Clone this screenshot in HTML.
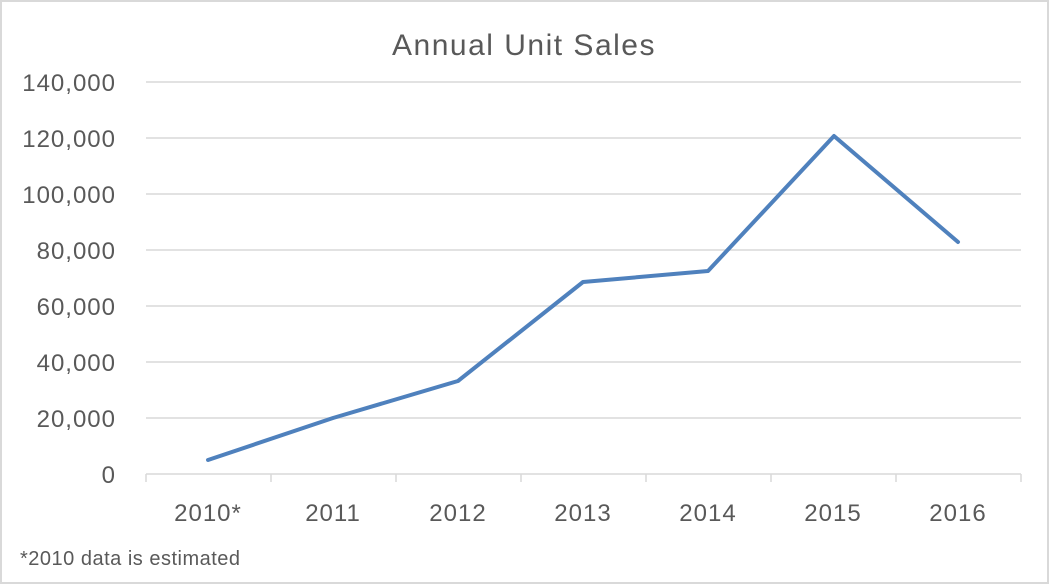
<!DOCTYPE html>
<html><head><meta charset="utf-8"><style>
html,body{margin:0;padding:0;background:#fff;}
svg{display:block;}
text{font-family:"Liberation Sans",sans-serif;fill:#595959;}
</style></head><body>
<svg width="1050" height="585" viewBox="0 0 1050 585">
<rect x="1" y="1" width="1047" height="582" fill="#fff" stroke="#d9d9d9" stroke-width="2"/>
<text x="524" y="55" font-size="30" letter-spacing="1.5" text-anchor="middle">Annual Unit Sales</text>
<g stroke="#d9d9d9" stroke-width="1.5">
<line x1="146" x2="1021" y1="82" y2="82"/>
<line x1="146" x2="1021" y1="138" y2="138"/>
<line x1="146" x2="1021" y1="194" y2="194"/>
<line x1="146" x2="1021" y1="250" y2="250"/>
<line x1="146" x2="1021" y1="306" y2="306"/>
<line x1="146" x2="1021" y1="362" y2="362"/>
<line x1="146" x2="1021" y1="418" y2="418"/>
<line x1="146" x2="1021" y1="474" y2="474"/>
<line x1="146" x2="146" y1="474" y2="482"/>
<line x1="271" x2="271" y1="474" y2="482"/>
<line x1="396" x2="396" y1="474" y2="482"/>
<line x1="521" x2="521" y1="474" y2="482"/>
<line x1="646" x2="646" y1="474" y2="482"/>
<line x1="771" x2="771" y1="474" y2="482"/>
<line x1="896" x2="896" y1="474" y2="482"/>
<line x1="1021" x2="1021" y1="474" y2="482"/>
</g>
<g font-size="24" letter-spacing="1" text-anchor="end">
<text x="116" y="91">140,000</text>
<text x="116" y="147">120,000</text>
<text x="116" y="203">100,000</text>
<text x="116" y="259">80,000</text>
<text x="116" y="315">60,000</text>
<text x="116" y="371">40,000</text>
<text x="116" y="427">20,000</text>
<text x="116" y="483">0</text>
</g>
<g font-size="24" letter-spacing="1" text-anchor="middle">
<text x="208" y="521">2010*</text>
<text x="333" y="521">2011</text>
<text x="458" y="521">2012</text>
<text x="583" y="521">2013</text>
<text x="708" y="521">2014</text>
<text x="833" y="521">2015</text>
<text x="958" y="521">2016</text>
</g>
<text x="20" y="565" font-size="20" letter-spacing="0.5">*2010 data is estimated</text>
<polyline fill="none" stroke="#4f81bd" stroke-width="4" stroke-linejoin="round" stroke-linecap="round"
points="208,460 333,418 458,381 583,282 708,271 834,136 958,242"/>
</svg>
</body></html>
